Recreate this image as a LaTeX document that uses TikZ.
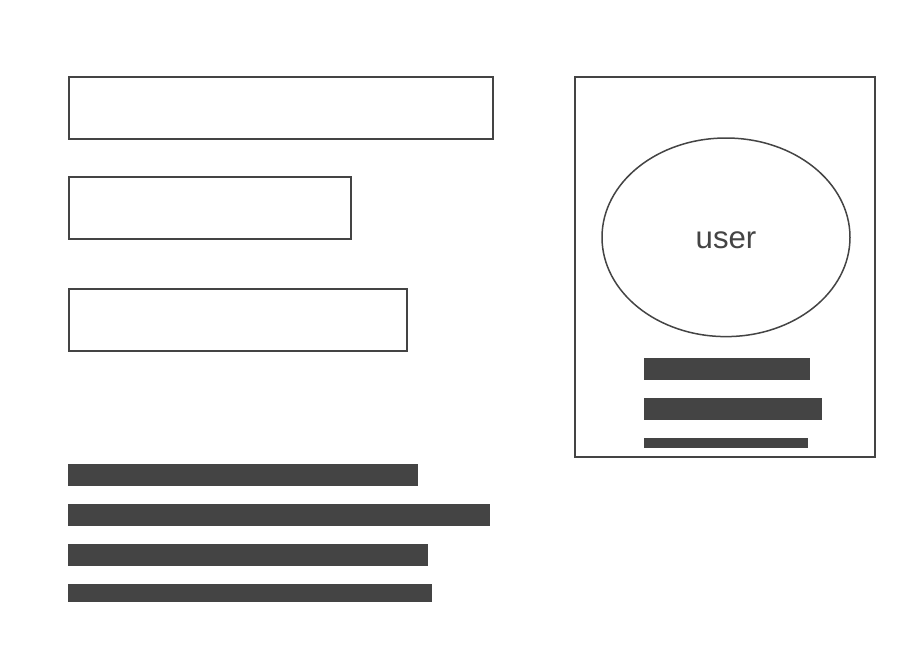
\documentclass[tikz,border=0pt]{standalone}
\usepackage{fontspec}
\setmainfont{Liberation Sans}
\usetikzlibrary{shapes.geometric}
\definecolor{ink}{HTML}{444444}
\begin{document}
\begin{tikzpicture}[x=1pt,y=-1pt,
  frame/.style={draw=ink, line width=2pt, rectangle, inner sep=0pt, outer sep=0pt, anchor=north west},
  bar/.style={fill=ink, draw=none, rectangle, inner sep=0pt, outer sep=0pt, anchor=north west},
  oval/.style={draw=ink, line width=1.5pt, ellipse, inner sep=0pt, outer sep=0pt},
  caption/.style={text=ink, inner sep=0pt, font=\fontsize{31.2}{36}\selectfont}]
\useasboundingbox[fill=white] (0,0) rectangle (922,662);
% left frames
\node[frame, minimum width=424pt, minimum height=61.5pt] (r1) at (69,77) {};
\node[frame, minimum width=282pt, minimum height=61.5pt] (r2) at (69,177) {};
\node[frame, minimum width=338pt, minimum height=61.5pt] (r3) at (69,289) {};
% left bars
\node[bar, minimum width=350pt, minimum height=22pt] (b1) at (68,464) {};
\node[bar, minimum width=422pt, minimum height=22pt] (b2) at (68,504) {};
\node[bar, minimum width=360pt, minimum height=22pt] (b3) at (68,544) {};
\node[bar, minimum width=364pt, minimum height=18pt] (b4) at (68,584) {};
% right card
\node[frame, minimum width=300pt, minimum height=380pt] (card) at (575,77) {};
\node[oval, minimum width=248pt, minimum height=198.6pt] (user) at (726,237.3) {};
\node[caption] (userlabel) at (726,240) {user};
\node[bar, minimum width=166pt, minimum height=22pt] (c1) at (644,358) {};
\node[bar, minimum width=178pt, minimum height=22pt] (c2) at (644,398) {};
\node[bar, minimum width=164pt, minimum height=10pt] (c3) at (644,438) {};
\end{tikzpicture}
\end{document}
